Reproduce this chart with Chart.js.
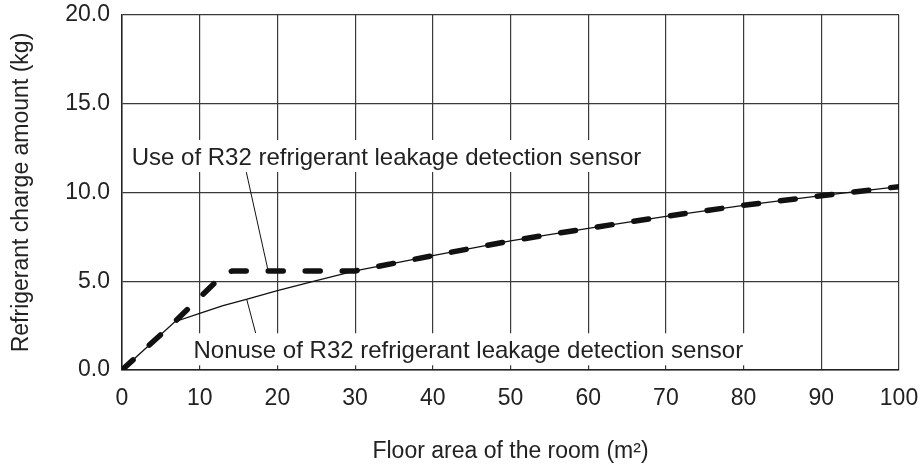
<!DOCTYPE html>
<html>
<head>
<meta charset="utf-8">
<script src="https://cdn.jsdelivr.net/npm/chart.js@4"></script>
<style>
  body { margin: 0; background: #fff; }
  canvas { display: block; }
</style>
</head>
<body>
<canvas id="chart" width="924" height="470"></canvas>
<script>
// floor area (m2) and refrigerant charge (kg)
const nonuseArea = [0, 6.8, 10, 13, 16, 20, 25, 30, 40, 50, 60, 70, 80, 90, 100];
const nonuseCharge = [0, 2.72, 3.19, 3.62, 3.98, 4.47, 5.03, 5.58, 6.44, 7.27, 7.98, 8.66, 9.28, 9.82, 10.33];
const sensorArea = [0, 6.8, 13.2, 14.2, 30, 40, 50, 60, 70, 80, 90, 100];
const sensorCharge = [0, 2.72, 5.45, 5.58, 5.58, 6.44, 7.27, 7.98, 8.66, 9.28, 9.82, 10.33];

const xTicks = [0, 10, 20, 30, 40, 50, 60, 70, 80, 90, 100];
const yTicks = [0, 5, 10, 15, 20];

// callout labels: text, text anchor (x, baseline y), leader line from -> to
const callouts = [
    { text: "Use of R32 refrigerant leakage detection sensor", at: [1.25, 11.55], from: [16.0, 11.15], to: [18.8, 5.6] },
    { text: "Nonuse of R32 refrigerant leakage detection sensor", at: [9.2, 0.66], from: [16.05, 3.98], to: [17.2, 2.08] }
];

const FONT = "'Liberation Sans', Arial, sans-serif";
const ink = "#222";

const toPoints = (xs, ys) => xs.map((x, i) => ({ x: x, y: ys[i] }));

const calloutPlugin = {
    id: "callouts",
    beforeDatasetsDraw(chart) {
        const { ctx, scales: { x, y } } = chart;
        ctx.save();
        ctx.font = "24px " + FONT;
        ctx.textBaseline = "alphabetic";
        callouts.forEach(c => {
            const px = x.getPixelForValue(c.at[0]);
            const py = y.getPixelForValue(c.at[1]);
            const w = ctx.measureText(c.text).width;
            ctx.fillStyle = "#fff";
            ctx.fillRect(px - 5, py - 25, w + 10, 32);
            ctx.fillStyle = ink;
            ctx.fillText(c.text, px, py);
            ctx.beginPath();
            ctx.strokeStyle = "#111";
            ctx.lineWidth = 1;
            ctx.moveTo(x.getPixelForValue(c.from[0]), y.getPixelForValue(c.from[1]));
            ctx.lineTo(x.getPixelForValue(c.to[0]), y.getPixelForValue(c.to[1]));
            ctx.stroke();
        });
        ctx.restore();
    }
};

new Chart(document.getElementById("chart"), {
    type: "line",
    data: {
        datasets: [{
            label: "Use of R32 refrigerant leakage detection sensor",
            data: toPoints(sensorArea, sensorCharge),
            borderColor: "#111",
            borderWidth: 5.5,
            borderDash: [15, 22],
            borderCapStyle: "round",
            borderJoinStyle: "round",
            pointRadius: 0,
            tension: 0,
            fill: false
        }, {
            label: "Nonuse of R32 refrigerant leakage detection sensor",
            data: toPoints(nonuseArea, nonuseCharge),
            borderColor: "#111",
            borderWidth: 1.3,
            pointRadius: 0,
            tension: 0,
            fill: false
        }]
    },
    options: {
        responsive: false,
        animation: false,
        layout: { padding: { top: 15, right: 25, left: 0, bottom: 0 } },
        plugins: {
            legend: { display: false },
            tooltip: { enabled: false }
        },
        scales: {
            x: {
                type: "linear",
                min: 0,
                max: 100,
                afterBuildTicks: s => { s.ticks = xTicks.map(v => ({ value: v })); },
                afterFit: s => { s.height = 100; s.paddingLeft = 0; s.paddingRight = 0; },
                ticks: { color: ink, font: { family: FONT, size: 23 }, padding: 15, maxRotation: 0 },
                grid: { color: "#3a3a3a", lineWidth: 1.2, drawTicks: false },
                border: { color: "#222", width: 1.5 },
                title: {
                    display: true,
                    text: "Floor area of the room (m²)",
                    color: ink,
                    font: { family: FONT, size: 23 },
                    padding: { bottom: 5 }
                }
            },
            y: {
                min: 0,
                max: 20,
                afterBuildTicks: s => { s.ticks = yTicks.map(v => ({ value: v })); },
                afterFit: s => { s.width = 122; s.paddingTop = 0; s.paddingBottom = 0; },
                ticks: { color: ink, font: { family: FONT, size: 23 }, padding: 12, callback: v => v.toFixed(1) },
                grid: { color: "#3a3a3a", lineWidth: 1.2, drawTicks: false },
                border: { color: "#222", width: 1.5 },
                title: {
                    display: true,
                    text: "Refrigerant charge amount (kg)",
                    color: ink,
                    font: { family: FONT, size: 23 },
                    padding: { top: 8 }
                }
            }
        }
    },
    plugins: [calloutPlugin]
});
</script>
</body>
</html>
